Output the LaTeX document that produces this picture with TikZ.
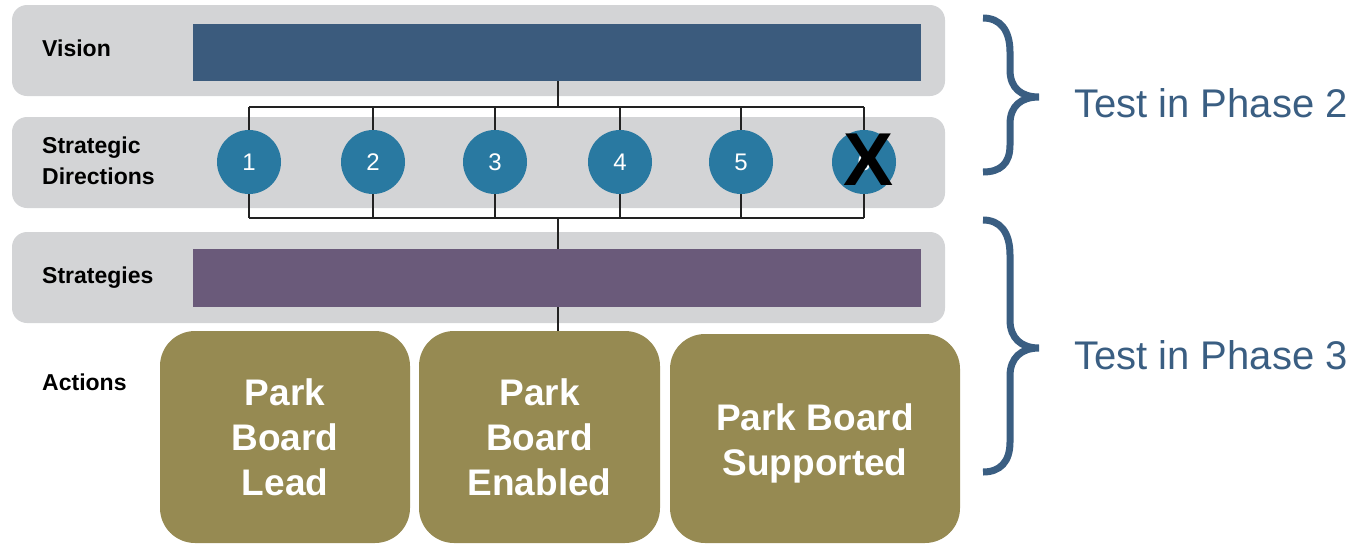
\documentclass[tikz,border=0pt]{standalone}
\usepackage{fontspec}
\setmainfont{Liberation Sans}
\definecolor{bandgray}{HTML}{D3D4D6}
\definecolor{visionblue}{HTML}{3B5B7D}
\definecolor{dirblue}{HTML}{2979A1}
\definecolor{stratpurple}{HTML}{6A5A7A}
\definecolor{actolive}{HTML}{968A52}
\definecolor{phaseblue}{HTML}{3A5E82}
\definecolor{busline}{HTML}{222222}
\begin{document}
\begin{tikzpicture}[x=1pt,y=-1pt,
  band/.style={fill=bandgray, rounded corners=15pt, inner sep=0pt, outer sep=0pt,
    minimum width=933pt, minimum height=91pt},
  bar/.style={inner sep=0pt, outer sep=0pt, minimum width=728pt},
  rowlabel/.style={anchor=base west, inner sep=0pt, align=left,
    font=\fontsize{23}{31}\selectfont\bfseries},
  dircircle/.style={circle, fill=dirblue, minimum size=64pt, inner sep=0pt,
    outer sep=0pt, text=white, font=\fontsize{24}{24}\selectfont},
  actbox/.style={fill=actolive, rounded corners=35pt, inner sep=0pt, outer sep=0pt,
    minimum height=212pt},
  acttext/.style={text=white, align=center, inner sep=0pt,
    font=\fontsize{37}{45}\selectfont\bfseries},
  bus/.style={draw=busline, line width=2pt},
  brace/.style={draw=phaseblue, line width=7pt},
  phase/.style={anchor=base west, inner sep=0pt, text=phaseblue,
    font=\fontsize{40}{40}\selectfont}
]
\useasboundingbox (0,0) rectangle (1370,544);

% grey bands
\node[band] (band1) at (478.5,50.5) {};
\node[band] (band2) at (478.5,162.5) {};
\node[band] (band3) at (478.5,277.5) {};

% row labels
\node[rowlabel] (lvision) at (42,56) {Vision};
\node[rowlabel, anchor=north west] (ldir) at (42,137) {Strategic\\Directions};
\node[rowlabel] (lstrat) at (42,283) {Strategies};
\node[rowlabel] (lact) at (42,390) {Actions};

% bars
\node[bar, fill=visionblue, minimum height=57pt] (vis) at (557,52.5) {};
\node[bar, fill=stratpurple, minimum height=58pt] (strat) at (557,278) {};

% bus junctions
\coordinate (tbus) at (558,107);
\coordinate (bbus) at (558,218);

% strategic direction circles
\foreach \i/\x in {1/249,2/373,3/495,4/620,5/741,6/864}{
  \coordinate (p\i) at (\x,162);
}

% bus wiring (drawn first, circles cover the ends)
\draw[bus] (vis.south -| tbus) -- (tbus);
\draw[bus] (p1 |- tbus) -- (p6 |- tbus);
\draw[bus] (p1 |- bbus) -- (p6 |- bbus);
\foreach \i in {1,...,6}{
  \draw[bus] (p\i |- tbus) -- (p\i);
  \draw[bus] (p\i) -- (p\i |- bbus);
}
\draw[bus] (bbus) -- (strat.north -| bbus);

\foreach \i in {1,...,6}{
  \node[dircircle] (c\i) at (p\i) {\i};
}
\node[inner sep=0pt, font=\fontsize{75}{75}\selectfont\bfseries] (cross) at (869,160) {X};

% action boxes
\node[actbox, minimum width=250pt] (a1) at (285,437) {};
\node[actbox, minimum width=241pt] (a2) at (539.5,437) {};
\node[actbox, minimum width=290pt, minimum height=209pt] (a3) at (815,438.5) {};
\node[acttext] (t1) at (a1.center) {Park\\Board\\Lead};
\node[acttext] (t2) at (a2.center) {Park\\Board\\Enabled};
\node[acttext] (t3) at ([yshift=-5pt]a3.center) {Park Board\\Supported};

\draw[bus] (strat.south -| bbus) -- (bbus |- a2.north);

% braces
\draw[brace] (983,18) .. controls (1000,18) and (1010,30) .. (1010,52)
  -- (1010,70) .. controls (1010,88) and (1021,97) .. (1039,97)
  .. controls (1021,97) and (1010,106) .. (1010,124)
  -- (1010,145) .. controls (1010,164) and (1000,172) .. (983,172);
\draw[brace] (983,220) .. controls (1000,220) and (1010,232) .. (1010,255)
  -- (1010,320) .. controls (1010,338) and (1021,348) .. (1039,348)
  .. controls (1021,348) and (1010,358) .. (1010,376)
  -- (1010,442) .. controls (1010,462) and (1000,472) .. (983,472);

\node[phase] (ph2) at (1074,117) {Test in Phase 2};
\node[phase] (ph3) at (1074,369) {Test in Phase 3};
\end{tikzpicture}
\end{document}
